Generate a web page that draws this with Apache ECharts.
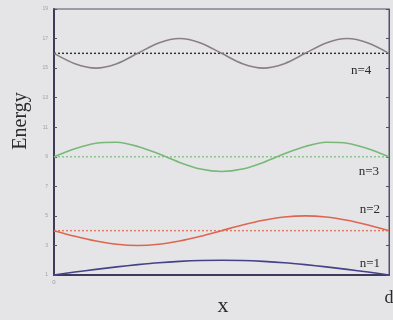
<!DOCTYPE html>
<html>
<head>
<meta charset="utf-8">
<script src="https://cdn.jsdelivr.net/npm/echarts@6/dist/echarts.min.js"></script>
<style>
  html, body { margin: 0; padding: 0; background: #e5e5e7; }
  #chart { width: 393px; height: 320px; }
</style>
</head>
<body>
<div id="chart"></div>
<script>
// position along the well, in units of d
const xs = [0, 0.0625, 0.125, 0.1875, 0.25, 0.3125, 0.375, 0.4375, 0.5,
  0.5625, 0.625, 0.6875, 0.75, 0.8125, 0.875, 0.9375, 1];

// energy levels (n^2) and wave curves
const levels = [1, 4, 9, 16];
const n1 = [1, 1.2, 1.38, 1.55, 1.7, 1.83, 1.92, 1.98, 2, 1.98, 1.92, 1.83, 1.7, 1.55, 1.38, 1.2, 1];
const n2 = [4, 3.62, 3.3, 3.08, 3, 3.08, 3.3, 3.62, 4, 4.38, 4.7, 4.92, 5, 4.92, 4.7, 4.38, 4];
const n3 = [9, 9.55, 9.92, 9.98, 9.7, 9.2, 8.62, 8.17, 8, 8.17, 8.62, 9.2, 9.7, 9.98, 9.92, 9.55, 9];
const n4 = [16, 15.3, 15, 15.3, 16, 16.7, 17, 16.7, 16, 15.3, 15, 15.3, 16, 16.7, 17, 16.7, 16];

const yTicks = [1, 3, 5, 7, 9, 11, 13, 15, 17, 19];
const levelNames = ['n=1', 'n=2', 'n=3', 'n=4'];
// where the level names sit (data units)
const nameX = [0.943, 0.943, 0.94, 0.917];
const nameY = [1.8, 5.4, 8, 14.8];

const colors = ['#45428a', '#de6650', '#78b878', '#8a8083'];
const dashColors = [null, '#e07a68', '#86c486', '#2e2e2e'];

const curves = [n1, n2, n3, n4];
const serif = '"Liberation Serif", "DejaVu Serif", serif';

const series = [];
curves.forEach((c, i) => {
  series.push({
    type: 'line',
    name: levelNames[i],
    data: xs.map((x, j) => [x, c[j]]),
    smooth: 0.3,
    symbol: 'none',
    lineStyle: { color: colors[i], width: 1.6 },
    markPoint: {
      symbol: 'circle',
      symbolSize: 1,
      itemStyle: { color: 'rgba(0,0,0,0)' },
      data: [{ coord: [nameX[i], nameY[i]] }],
      label: {
        show: true,
        position: 'inside',
        formatter: levelNames[i],
        fontFamily: serif,
        fontSize: 13,
        color: '#2a2a2a'
      }
    },
    z: 3
  });
  if (dashColors[i]) {
    series.push({
      type: 'line',
      data: [[0, levels[i]], [1, levels[i]]],
      symbol: 'none',
      lineStyle: { color: dashColors[i], width: 1.4, type: [2, 2] },
      z: 2
    });
  }
});

const chart = echarts.init(document.getElementById('chart'));
chart.setOption({
  backgroundColor: '#e5e5e7',
  animation: false,
  grid: {
    left: 54, right: 4, top: 9, bottom: 45,
    outerBoundsMode: 'none',
    show: true, borderColor: '#55506a', borderWidth: 1
  },
  xAxis: {
    type: 'value', min: 0, max: 1,
    axisLine: { show: true, lineStyle: { color: '#3e3a5a', width: 2 } },
    axisTick: { show: false },
    splitLine: { show: false },
    axisLabel: {
      customValues: [0, 1],
      margin: 4,
      formatter: v => v === 0 ? '{s|0}' : '{d|d}',
      rich: {
        s: { fontSize: 6, color: '#9a9a9a' },
        d: { fontSize: 18, fontFamily: serif, color: '#2a2a2a', padding: [10, 0, 0, 0] }
      }
    }
  },
  yAxis: [{
    type: 'value', min: 1, max: 19,
    axisLine: { show: true, lineStyle: { color: '#3e3a5a', width: 2 } },
    axisTick: { show: true, inside: true, length: 3, customValues: yTicks, lineStyle: { color: '#55506a' } },
    splitLine: { show: false },
    axisLabel: { customValues: yTicks, fontSize: 5, color: '#a0a0a0', margin: 6 }
  }, {
    type: 'value', min: 1, max: 19, position: 'right',
    axisLine: { show: true, lineStyle: { color: '#55506a', width: 1 } },
    axisTick: { show: true, inside: true, length: 3, customValues: yTicks, lineStyle: { color: '#55506a' } },
    splitLine: { show: false },
    axisLabel: { show: false }
  }],
  graphic: [{
    type: 'text', x: 21, y: 121, rotation: Math.PI / 2,
    style: { text: 'Energy', fontFamily: serif, fontSize: 20, fill: '#2a2a2a', align: 'center', verticalAlign: 'middle' }
  }, {
    type: 'text', x: 223, y: 306,
    style: { text: 'x', fontFamily: serif, fontSize: 22, fill: '#2a2a2a', align: 'center', verticalAlign: 'middle' }
  }],
  series: series
});
</script>
</body>
</html>
